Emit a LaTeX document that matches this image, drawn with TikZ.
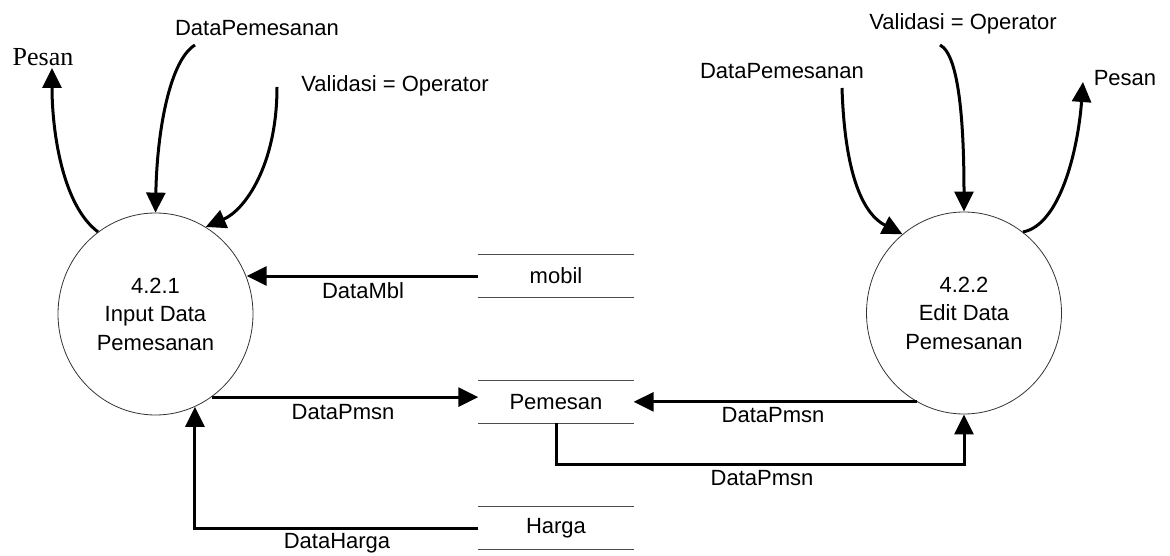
\documentclass[tikz,border=0pt]{standalone}
\usepackage{fontspec}
\setmainfont{Liberation Sans}
\newfontfamily\serifpesan{Liberation Serif}
\usetikzlibrary{arrows.meta,shapes.geometric}
\tikzset{
  proc/.style={ellipse, draw=black!80, line width=0.8pt, minimum width=195pt, minimum height=202pt, inner sep=0pt, align=center},
  store/.style={minimum width=155pt, minimum height=42pt, inner sep=0pt},
  storeline/.style={draw=black!70, line width=1.2pt},
  flow/.style={-{Triangle[length=20pt,width=19pt]}, line width=3pt},
  lbl/.style={inner sep=0pt}
}
\begin{document}
\begin{tikzpicture}[x=1pt, y=-1pt, font=\fontsize{22}{28.5}\selectfont]
  \useasboundingbox (0,0) rectangle (1170,556);
  \node [proc] (input) at (155.5,314) {4.2.1\\Input Data\\Pemesanan};
  \node [proc] (edit) at (964,313) {4.2.2\\Edit Data\\Pemesanan};
  \node [store] (mobil) at (556,276) {mobil};
  \node [store] (pemesan) at (556,402) {Pemesan};
  \node [store] (harga) at (556,528) {Harga};
  \foreach \s in {mobil,pemesan,harga}
    \draw [storeline] (\s.north west) -- (\s.north east) (\s.south west) -- (\s.south east);
  \node [lbl, font=\fontsize{26}{30}\serifpesan] (pesanA) at (43,57) {Pesan};
  \node [lbl] (pemesananA) at (257,28) {DataPemesanan};
  \node [lbl] (validasiA) at (395,86) {Validasi = Operator};
  \node [lbl] (pemesananB) at (782,71) {DataPemesanan};
  \node [lbl] (validasiB) at (963,24) {Validasi = Operator};
  \node [lbl] (pesanB) at (1125,78) {Pesan};
  \coordinate (pesanA-tip) at (52,68);
  \coordinate (pemesananA-end) at (195,45);
  \coordinate (validasiA-end) at (277,87);
  \coordinate (pemesananB-end) at (842,88);
  \coordinate (validasiB-end) at (940,45);
  \coordinate (pesanB-tip) at (1083,82);
  \draw [flow] (input.125) .. controls (62,205) and (52,130) .. (pesanA-tip);
  \draw [flow] (pemesananA-end) .. controls (170,60) and (157,130) .. (input.north);
  \draw [flow] (validasiA-end) .. controls (277,165) and (245,210) .. (input.60);
  \draw [flow] (pemesananB-end) .. controls (845,180) and (865,215) .. (edit.128);
  \draw [flow] (validasiB-end) .. controls (960,55) and (964,130) .. (edit.north);
  \draw [flow] (edit.54) .. controls (1060,225) and (1078,150) .. (pesanB-tip);
  \draw [flow] (mobil.west) -- (mobil.west -| input.22);
  \draw [flow] (input.-56) -- (input.-56 -| pemesan.west);
  \draw [flow] (edit.-118) -- (edit.-118 -| pemesan.east);
  \draw [flow] (pemesan.south) -- ([yshift=-41pt]pemesan.south) -| (edit.south);
  \draw [flow] (harga.west) -| (input.-67.5);
  \node [lbl] (dataMbl) at (363,291) {DataMbl};
  \node [lbl] (dataPmsnA) at (343,412) {DataPmsn};
  \node [lbl] (dataPmsnB) at (773,415) {DataPmsn};
  \node [lbl] (dataPmsnC) at (762,478) {DataPmsn};
  \node [lbl] (dataHarga) at (337,543) {DataHarga};
\end{tikzpicture}
\end{document}
